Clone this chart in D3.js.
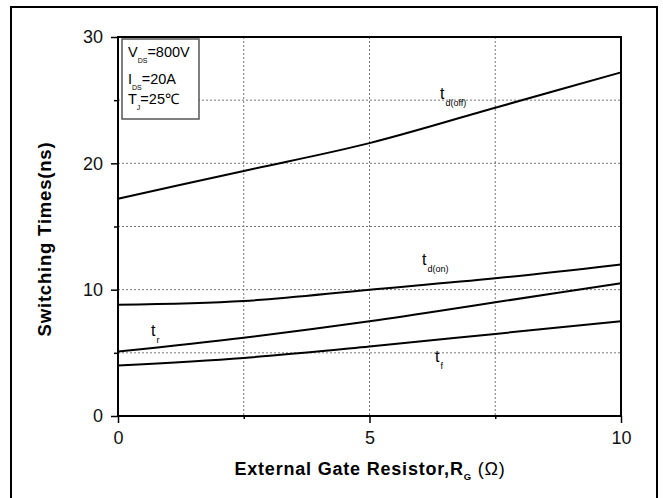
<!DOCTYPE html>
<html>
<head>
<meta charset="utf-8">
<script src="https://cdn.jsdelivr.net/npm/d3@7"></script>
<style>
  body { margin: 0; background: #fff; }
  svg { display: block; font-family: "Liberation Sans", Arial, sans-serif; }
</style>
</head>
<body>
<svg id="chart" width="663" height="498"></svg>
<script>
// External gate resistance (ohm)
const rg = [0, 2.5, 5, 7.5, 10];
// Switching times (ns)
const tdOff = [17.2, 19.4, 21.6, 24.4, 27.2];
const tdOn  = [8.8, 9.1, 10.0, 10.9, 12.0];
const tRise = [5.1, 6.2, 7.5, 9.0, 10.5];
const tFall = [4.0, 4.6, 5.5, 6.5, 7.5];

const xMajorTicks = [0, 5, 10];
const xMinorTicks = [2.5, 7.5];
const yMajorTicks = [0, 10, 20, 30];
const yMinorTicks = [5, 15, 25];

const svg = d3.select("#chart");
const plotL = 118, plotR = 621, plotT = 37, plotB = 416;

const x = d3.scaleLinear().domain([0, 10]).range([plotL, plotR]);
const y = d3.scaleLinear().domain([0, 30]).range([plotB, plotT]);

// outer frame
svg.append("rect").attr("x", 11).attr("y", 7).attr("width", 646).attr("height", 500)
  .attr("fill", "none").attr("stroke", "#000").attr("stroke-width", 2);

// dotted grid
const grid = svg.append("g").attr("stroke", "#777").attr("stroke-width", 1)
  .attr("stroke-dasharray", "2,2");
[...xMinorTicks, 5].forEach(v => grid.append("line")
  .attr("x1", x(v)).attr("x2", x(v)).attr("y1", plotT).attr("y2", plotB));
[...yMinorTicks, 10, 20].forEach(v => grid.append("line")
  .attr("x1", plotL).attr("x2", plotR).attr("y1", y(v)).attr("y2", y(v)));

// axes
const yAxis = svg.append("g").attr("transform", `translate(${plotL},0)`)
  .call(d3.axisLeft(y).tickValues(yMajorTicks).tickSize(7).tickPadding(8));
const yMinor = svg.append("g").attr("transform", `translate(${plotL},0)`)
  .call(d3.axisLeft(y).tickValues(yMinorTicks).tickSize(4).tickFormat(""));
const xAxis = svg.append("g").attr("transform", `translate(0,${plotB})`)
  .call(d3.axisBottom(x).tickValues(xMajorTicks).tickSize(7).tickPadding(8));
const xMinor = svg.append("g").attr("transform", `translate(0,${plotB})`)
  .call(d3.axisBottom(x).tickValues(xMinorTicks).tickSize(3).tickFormat(""));
[yAxis, yMinor, xAxis, xMinor].forEach(g => {
  g.select(".domain").remove();
  g.selectAll(".tick line").attr("stroke", "#000").attr("stroke-width", 1.5);
  g.selectAll(".tick text").attr("font-size", 18).attr("fill", "#111")
    .attr("font-family", "'Liberation Sans', Arial, sans-serif");
});

// plot border
svg.append("rect").attr("x", plotL).attr("y", plotT).attr("width", plotR - plotL)
  .attr("height", plotB - plotT).attr("fill", "none").attr("stroke", "#000")
  .attr("stroke-width", 2);

// curves
const line = d3.line().x((d, i) => x(rg[i])).y(d => y(d)).curve(d3.curveMonotoneX);
[tdOff, tdOn, tRise, tFall].forEach(s => svg.append("path").attr("d", line(s))
  .attr("fill", "none").attr("stroke", "#000").attr("stroke-width", 2));

// curve labels
function curveLabel(px, py, sub) {
  const t = svg.append("text").attr("x", px).attr("y", py).attr("font-size", 16).attr("fill", "#000");
  t.append("tspan").text("t");
  t.append("tspan").attr("dy", 7).attr("dx", 1).attr("font-size", 9).text(sub);
}
curveLabel(440, 99, "d(off)");
curveLabel(422, 265, "d(on)");
curveLabel(151, 336, "r");
curveLabel(435, 362, "f");

// conditions box
svg.append("rect").attr("x", 122).attr("y", 39).attr("width", 77).attr("height", 80)
  .attr("fill", "#fff").attr("stroke", "#555").attr("stroke-width", 1.5);
function condLine(py, main, sub, rest) {
  const t = svg.append("text").attr("x", 128).attr("y", py).attr("font-size", 14.5).attr("fill", "#000");
  t.append("tspan").text(main);
  t.append("tspan").attr("dy", 6).attr("font-size", 7).text(sub);
  t.append("tspan").attr("dy", -6).text(rest);
}
condLine(57, "V", "DS", "=800V");
condLine(84, "I", "DS", "=20A");
condLine(104, "T", "J", "=25℃");

// axis titles
svg.append("text").attr("transform", `translate(51,239) rotate(-90)`)
  .attr("text-anchor", "middle").attr("font-size", 18.5).attr("font-weight", "bold")
  .attr("letter-spacing", 0.8)
  .text("Switching Times(ns)");
const xt = svg.append("text").attr("x", 370).attr("y", 475).attr("text-anchor", "middle")
  .attr("font-size", 18).attr("font-weight", "bold").attr("letter-spacing", 0.8);
xt.append("tspan").text("External Gate Resistor,R");
xt.append("tspan").attr("dy", 5).attr("font-size", 9.5).text("G");
xt.append("tspan").attr("dy", -5).attr("font-weight", "normal").text(" (Ω)");
</script>
</body>
</html>
